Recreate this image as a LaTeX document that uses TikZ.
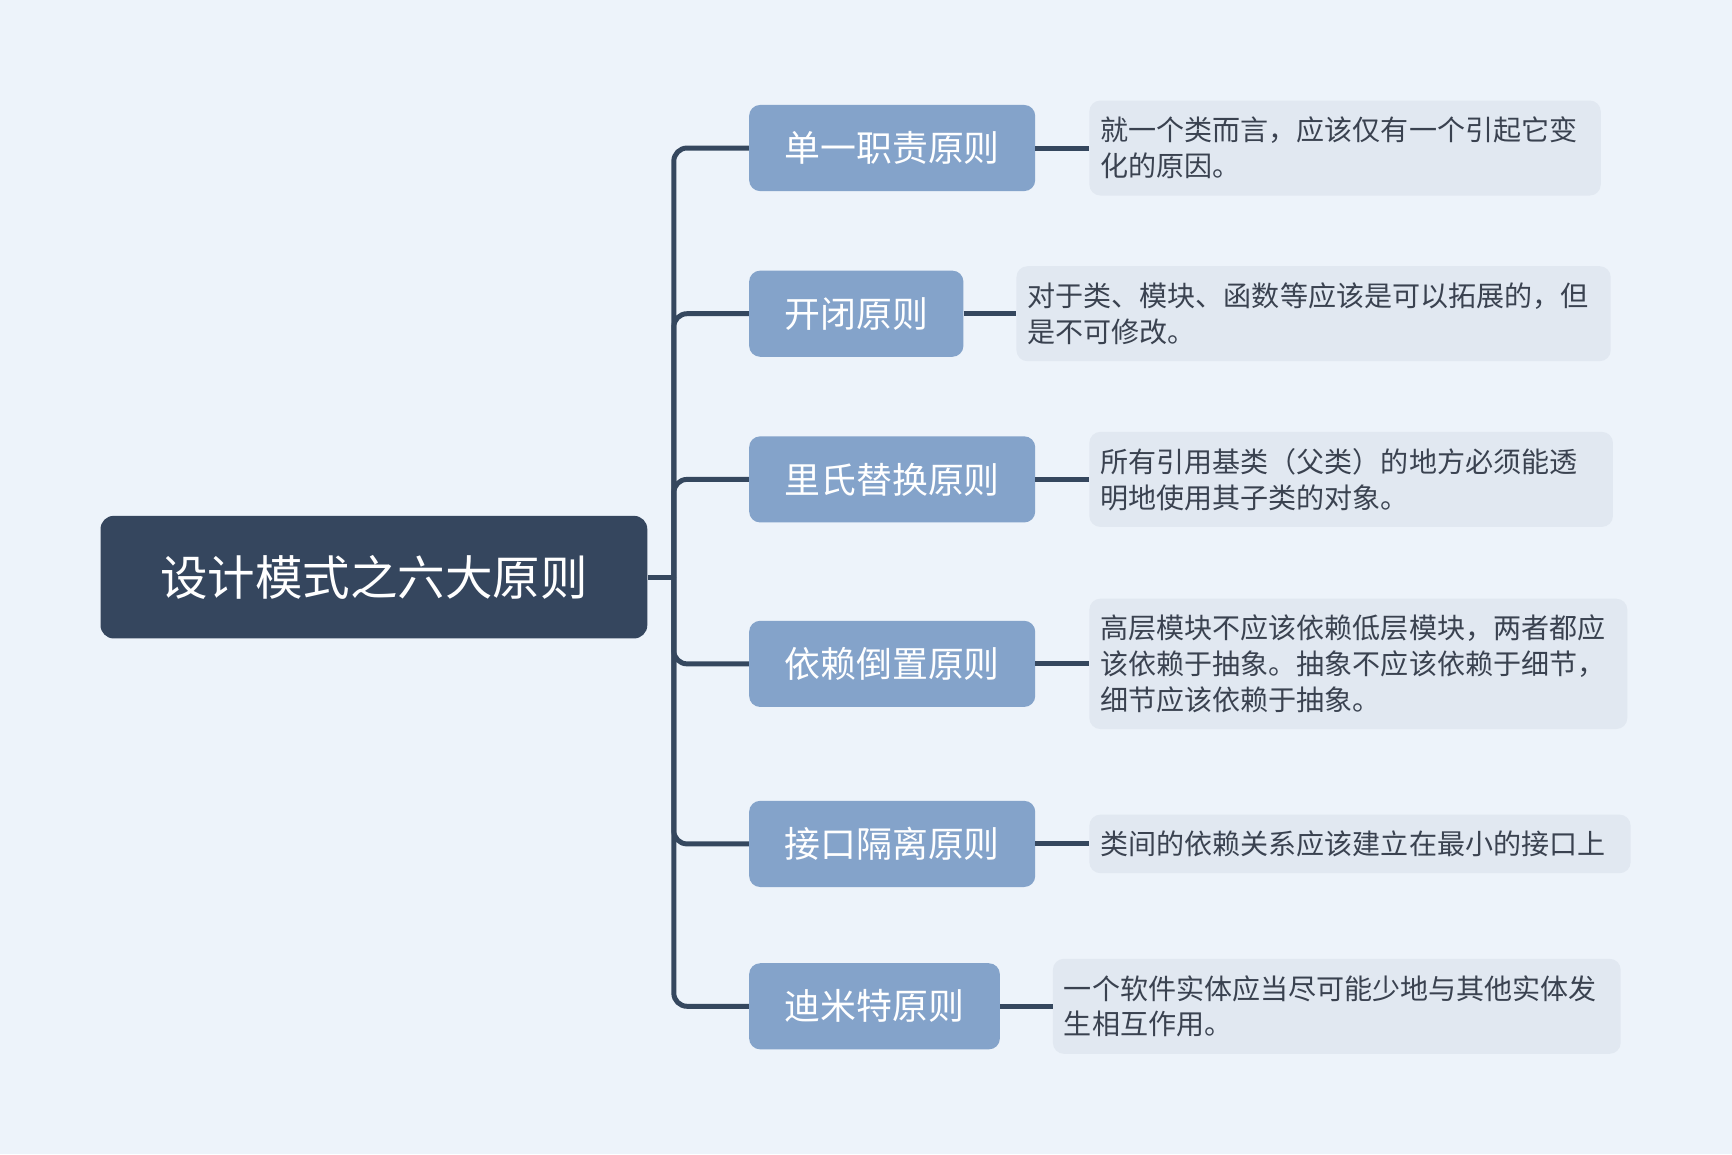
\documentclass[tikz,border=0pt]{standalone}
\usepackage{fontspec}
\setmainfont{Noto Sans CJK SC}
\definecolor{bgc}{HTML}{EDF3FA}
\definecolor{rootc}{HTML}{35465E}
\definecolor{branchc}{HTML}{84A3CA}
\definecolor{descc}{HTML}{E1E8F1}
\definecolor{desctext}{HTML}{3A4250}
\definecolor{linec}{HTML}{35475E}
\begin{document}
\begin{tikzpicture}[x=1pt,y=-1pt,
  rootbox/.style={fill=rootc, text=white, rounded corners=12pt, inner sep=0pt,
    font=\fontsize{43}{50}\selectfont, minimum height=111pt},
  branchbox/.style={fill=branchc, text=white, rounded corners=10pt, inner sep=0pt,
    font=\fontsize{32.5}{38}\selectfont, minimum height=78pt, anchor=west},
  descbox/.style={fill=descc, text=desctext, rounded corners=10pt, inner xsep=10pt, inner ysep=0pt,
    font=\fontsize{25.4}{32.5}\selectfont, align=left, anchor=west},
  conn/.style={draw=linec, line width=4.5pt, rounded corners=12pt}
]
\fill[bgc] (0,0) rectangle (1568,1045);
\useasboundingbox (0,0) rectangle (1568,1045);

\node[rootbox, minimum width=495pt] (root) at (338.5,522.5) {设计模式之六大原则};
\coordinate (hub) at (610,522.5);

\node[branchbox, minimum width=259pt] (b1) at (678,134) {单一职责原则};
\node[branchbox, minimum width=194pt] (b2) at (678,284) {开闭原则};
\node[branchbox, minimum width=259pt] (b3) at (678,434) {里氏替换原则};
\node[branchbox, minimum width=259pt] (b4) at (678,601) {依赖倒置原则};
\node[branchbox, minimum width=259pt] (b5) at (678,764) {接口隔离原则};
\node[branchbox, minimum width=227pt] (b6) at (678,911) {迪米特原则};

\node[descbox, text width=443pt, minimum height=86pt] (d1) at (986,134)
  {就一个类而言，应该仅有一个引起它变\\化的原因。};
\node[descbox, text width=518pt, minimum height=86pt] (d2) at (920,284)
  {对于类、模块、函数等应该是可以拓展的，但\\是不可修改。};
\node[descbox, text width=454pt, minimum height=86pt] (d3) at (986,434)
  {所有引用基类（父类）的地方必须能透\\明地使用其子类的对象。};
\node[descbox, text width=467pt, minimum height=118pt] (d4) at (986,601)
  {高层模块不应该依赖低层模块，两者都应\\该依赖于抽象。抽象不应该依赖于细节，\\细节应该依赖于抽象。};
\node[descbox, text width=470pt, minimum height=53pt] (d5) at (986,764)
  {类间的依赖关系应该建立在最小的接口上};
\node[descbox, text width=494pt, minimum height=86pt] (d6) at (953,911)
  {一个软件实体应当尽可能少地与其他实体发\\生相互作用。};

\draw[conn] (root.east) -- (hub);
\foreach \b in {b1,b2,b3,b4,b5,b6}{
  \draw[conn] (hub) -- (hub |- \b.west) -- (\b.west);
}
\foreach \i in {1,...,6}{
  \draw[conn] (b\i.east) -- (d\i.west);
}
\end{tikzpicture}
\end{document}
